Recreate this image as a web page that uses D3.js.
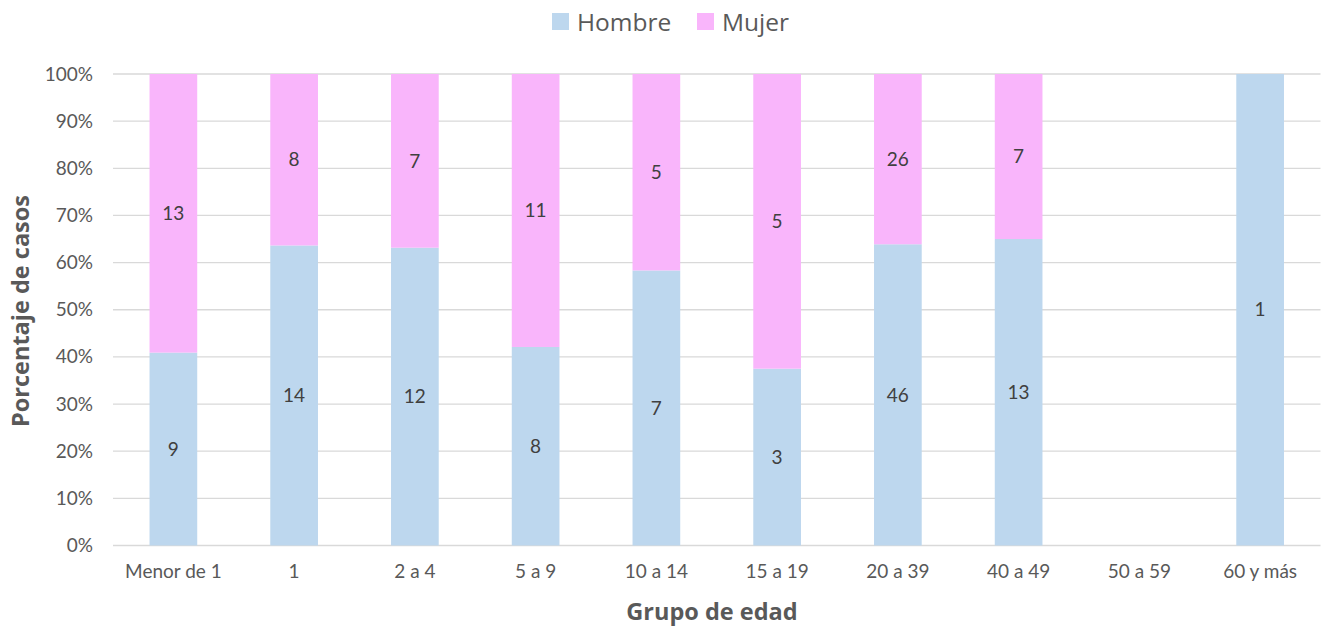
<!DOCTYPE html>
<html><head><meta charset="utf-8">
<script src="https://cdn.jsdelivr.net/npm/d3@7"></script>
<style>body{margin:0;background:#fff;} svg{display:block;}</style>
</head><body>
<svg id="c" width="1325" height="629"></svg>
<script>
const categories = ["Menor de 1","1","2 a 4","5 a 9","10 a 14","15 a 19","20 a 39","40 a 49","50 a 59","60 y más"];
const hombre = [9,14,12,8,7,3,46,13,0,1];
const mujer  = [13,8,7,11,5,5,26,7,0,0];
const yTicks = [0,0.1,0.2,0.3,0.4,0.5,0.6,0.7,0.8,0.9,1];
const seriesNames = ["Hombre","Mujer"];
const colors = ["#BDD7EE","#F9B5FB"];

const svg = d3.select("#c");
const m = {left:113, right:1320.5, top:74, bottom:545.5};
const x = d3.scaleBand().domain(categories).range([m.left, m.right]).paddingInner(0.605).paddingOuter(0.3025);
const y = d3.scaleLinear().domain([0,1]).range([m.bottom, m.top]);

const fontTick = "Lato, 'Open Sans', sans-serif";
// gridlines
svg.append("g").selectAll("line").data(yTicks).join("line")
  .attr("x1", m.left).attr("x2", m.right)
  .attr("y1", d=>y(d)).attr("y2", d=>y(d))
  .attr("stroke", "#d9d9d9").attr("stroke-width", 1.3);

// y axis labels
const yAxis = d3.axisLeft(y).tickValues(yTicks).tickFormat(d3.format(".0%")).tickSize(0).tickPadding(20);
const ya = svg.append("g").attr("transform", `translate(${m.left},0)`).call(yAxis);
ya.select(".domain").remove();
ya.selectAll("text").attr("font-family", fontTick).attr("font-size", 19).attr("fill", "#595959");

// x axis labels
const xAxis = d3.axisBottom(x).tickSize(0).tickPadding(19);
const xa = svg.append("g").attr("transform", `translate(0,${m.bottom})`).call(xAxis);
xa.select(".domain").remove();
xa.selectAll("text").attr("font-family", fontTick).attr("font-size", 19).attr("fill", "#595959");

// stacked data
const rows = categories.map((c,i)=>({cat:c, Hombre:hombre[i], Mujer:mujer[i], total:hombre[i]+mujer[i]}));
const stack = d3.stack().keys(seriesNames).value((d,k)=> d.total ? d[k]/d.total : 0);
const stacked = stack(rows);

stacked.forEach((s,si)=>{
  const g = svg.append("g");
  g.selectAll("rect").data(s).join("rect")
    .attr("x", d=>x(d.data.cat)).attr("width", x.bandwidth())
    .attr("y", d=>y(d[1])).attr("height", d=>y(d[0])-y(d[1]))
    .attr("fill", colors[si]);
  g.selectAll("text").data(s.filter(d=>d.data[seriesNames[si]]>0)).join("text")
    .attr("x", d=>x(d.data.cat)+x.bandwidth()/2)
    .attr("y", d=>(y(d[0])+y(d[1]))/2)
    .attr("dy", "0.35em").attr("text-anchor","middle")
    .attr("font-family", fontTick).attr("font-size", 19).attr("fill", "#404040")
    .text(d=>d.data[seriesNames[si]]);
});

// axis titles
svg.append("text").attr("x", 712).attr("y", 620)
  .attr("text-anchor","middle").attr("font-family","'Open Sans', sans-serif").attr("font-weight","bold")
  .attr("font-size", 23.5).attr("fill","#595959").text("Grupo de edad");
svg.append("text").attr("transform", `translate(29,${311}) rotate(-90)`)
  .attr("text-anchor","middle").attr("font-family","'Open Sans', sans-serif").attr("font-weight","bold")
  .attr("font-size", 23.5).attr("fill","#595959").text("Porcentaje de casos");

// legend
const lg = svg.append("g");
const legendX = [552, 697];
seriesNames.forEach((n,i)=>{
  lg.append("rect").attr("x", legendX[i]).attr("y", 13).attr("width", 17).attr("height", 17).attr("fill", colors[i]);
  lg.append("text").attr("x", legendX[i]+25).attr("y", 30.5)
    .attr("font-family","'Open Sans', sans-serif").attr("font-size", 24.5).attr("fill","#595959").text(n);
});
</script>
</body></html>
